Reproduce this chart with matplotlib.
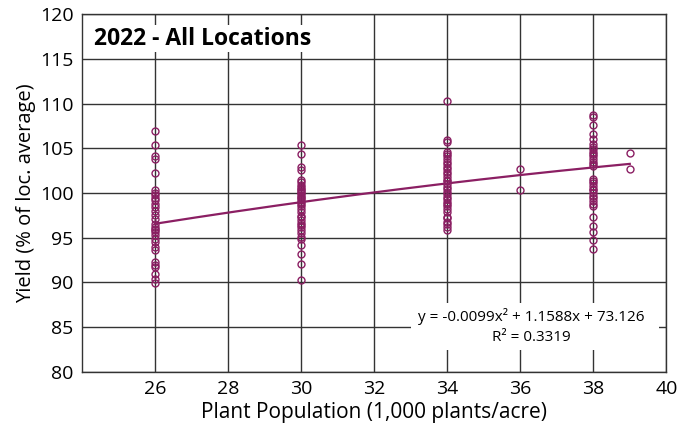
import matplotlib
matplotlib.use("Agg")
import matplotlib.pyplot as plt
import numpy as np
from matplotlib.patches import Rectangle

plt.rcParams['font.family'] = ['Open Sans', 'DejaVu Sans']

# Data
pop26 = [106.9, 105.4, 104.1, 103.8, 102.2, 100.3, 100.0, 99.8, 99.5, 99.2, 98.8, 98.4,
         98.0, 97.5, 97.1, 96.5, 96.2, 96.0, 95.9, 95.6, 95.3, 94.9, 94.5, 94.0, 93.6,
         92.3, 92.0, 91.7, 91.0, 90.4, 89.9]
pop30 = [105.4, 104.4, 102.9, 102.6, 101.5, 101.2, 100.9, 100.7, 100.5, 100.3, 100.1,
         100.0, 99.8, 99.6, 99.4, 99.2, 99.0, 98.8, 98.5, 98.2, 97.9, 97.4, 97.3, 97.0,
         96.7, 96.4, 96.2, 95.9, 95.5, 95.1, 94.9, 94.2, 93.2, 92.1, 90.3]
pop34 = [110.3, 105.9, 105.7, 104.6, 104.4, 104.1, 103.8, 103.5, 103.2, 102.9, 102.7,
         102.4, 102.1, 101.8, 101.5, 101.3, 101.0, 100.7, 100.4, 100.1, 99.9, 99.6, 99.3,
         99.0, 98.8, 98.5, 98.2, 97.9, 97.3, 97.2, 96.8, 96.5, 96.2, 95.9]
pop36 = [102.7, 100.3]
pop38 = [108.7, 108.5, 107.6, 106.6, 106.0, 105.5, 105.2, 104.9, 104.6, 104.4, 104.1,
         103.8, 103.5, 103.2, 103.0, 101.6, 101.4, 101.1, 100.8, 100.5, 100.3, 100.0,
         99.7, 99.4, 99.1, 98.8, 98.5, 97.3, 96.3, 95.6, 94.7, 93.7]
pop39 = [104.5, 102.7]

groups = {26: pop26, 30: pop30, 34: pop34, 36: pop36, 38: pop38, 39: pop39}

# Trendline coefficients (from the reference equation)
coef = [-0.0099, 1.1588, 73.126]
trend_range = [26, 39]

xticks = [26, 28, 30, 32, 34, 36, 38, 40]
yticks = [80, 85, 90, 95, 100, 105, 110, 115, 120]

color = '#8b1f63'

fig = plt.figure(figsize=(6.82, 4.29), dpi=100)
ax = fig.add_axes([0.120, 0.133, 0.857, 0.834])

ax.set_xlim(24, 40)
ax.set_ylim(80, 120)
ax.set_xticks(xticks)
ax.set_yticks(yticks)
ax.grid(True, color='#333333', linewidth=1.0)
ax.set_axisbelow(True)
ax.tick_params(length=0, labelsize=14, pad=6)
for s in ax.spines.values():
    s.set_color('#333333')
    s.set_linewidth(1.0)

for xv, ys in groups.items():
    ax.plot([xv] * len(ys), ys, linestyle='none', marker='o', markersize=5,
            markerfacecolor='none', markeredgecolor=color, markeredgewidth=1.0, zorder=3)

xs = np.linspace(trend_range[0], trend_range[1], 200)
ax.plot(xs, np.polyval(coef, xs), color=color, linewidth=1.6, zorder=4)

# White box behind equation
ax.add_patch(Rectangle((33.0, 82.4), 6.8, 5.3, facecolor='white', edgecolor='none', zorder=2))
ax.text(36.3, 86.2, 'y = -0.0099x² + 1.1588x + 73.126', ha='center', va='center',
        fontsize=11, zorder=5)
ax.text(36.3, 83.8, 'R² = 0.3319', ha='center', va='center', fontsize=11, zorder=5)

ax.text(0.02, 0.965, '2022 - All Locations', transform=ax.transAxes, ha='left', va='top',
        fontsize=16.5, fontweight='bold', zorder=5,
        bbox=dict(facecolor='white', edgecolor='none', pad=1))

ax.set_xlabel('Plant Population (1,000 plants/acre)', fontsize=15, labelpad=3)
ax.set_ylabel('Yield (% of loc. average)', fontsize=14.5, labelpad=3)

fig.savefig('out.png', dpi=100)
